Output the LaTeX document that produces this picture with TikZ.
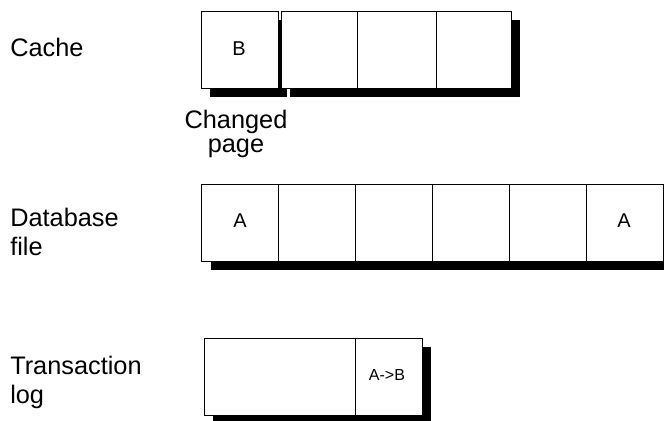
\documentclass[tikz,border=0pt]{standalone}
\usepackage{fontspec}
\setmainfont{Liberation Sans}
\begin{document}
\begin{tikzpicture}[x=0.75pt,y=-0.75pt,
  shadowfill/.style={fill=black,draw=none},
  pagebox/.style={draw=black,fill=white,line width=0.75pt},
  divider/.style={draw=black,line width=0.75pt},
  rowlabel/.style={anchor=base west,inner sep=0pt,font=\fontsize{19}{22}\selectfont},
  celltext/.style={anchor=base,inner sep=0pt,font=\fontsize{15}{18}\selectfont},
  smalltext/.style={anchor=base,inner sep=0pt,font=\fontsize{12}{14}\selectfont}]
\clip (0,0) rectangle (664,421);
% shadows
\fill[shadowfill] (210,20) rectangle (287,97);
\fill[shadowfill] (290,20) rectangle (520,97);
\fill[shadowfill] (211,193) rectangle (672,270);
\fill[shadowfill] (213,347) rectangle (431,424);
% cache
\draw[pagebox] (201,11) rectangle (278,88);
\draw[pagebox] (281,11) rectangle (511,88);
\draw[divider] (357,11) -- (357,88);
\draw[divider] (436,11) -- (436,88);
% database file
\draw[pagebox] (201,184) rectangle (663,261);
\foreach \xx in {278,355,432,509,586} \draw[divider] (\xx,184) -- (\xx,261);
% transaction log
\draw[pagebox] (204,338) rectangle (422,415);
\draw[divider] (355,338) -- (355,415);
% cell texts
\node[celltext] (b) at (239,55) {B};
\node[celltext] (a1) at (240,227) {A};
\node[celltext] (a2) at (624,227) {A};
\node[smalltext] (ab) at (387,380) {A->B};
% labels
\node[rowlabel] (cache) at (10,56) {Cache};
\node[rowlabel] (db1) at (10,226) {Database};
\node[rowlabel] (db2) at (10,255) {file};
\node[rowlabel] (tl1) at (10,374) {Transaction};
\node[rowlabel] (tl2) at (10,403) {log};
\node[rowlabel,anchor=base] (ch1) at (236,128) {Changed};
\node[rowlabel,anchor=base] (ch2) at (236,152) {page};
\end{tikzpicture}
\end{document}
